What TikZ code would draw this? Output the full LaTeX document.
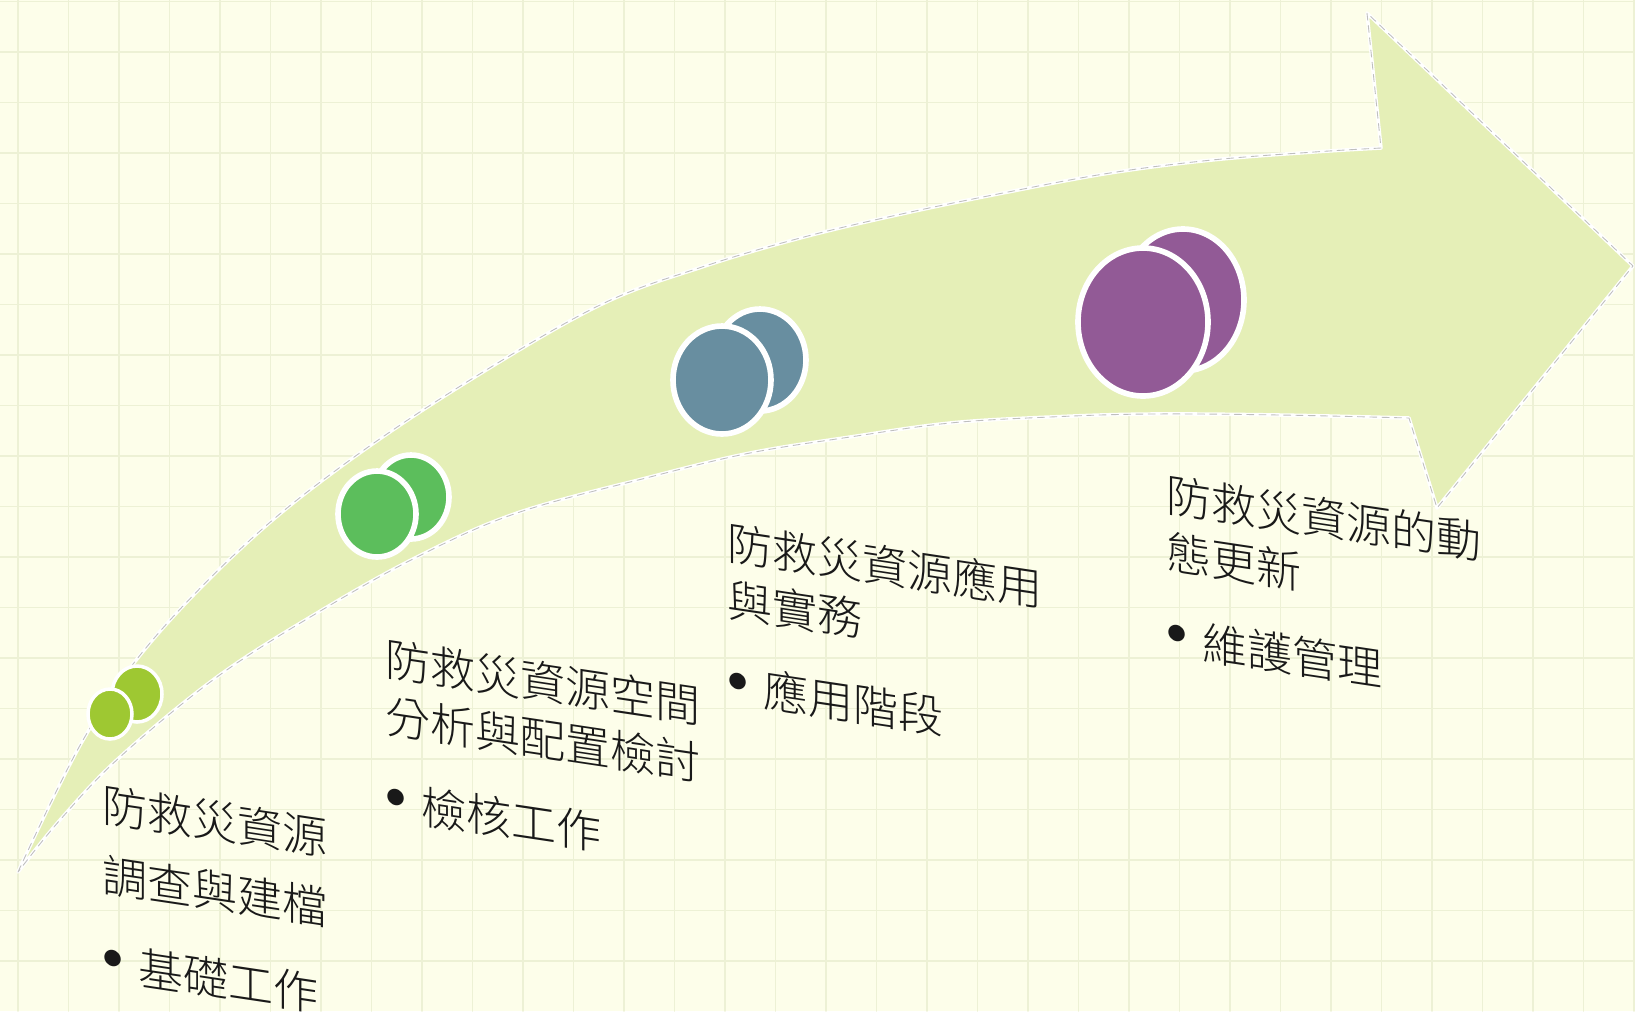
\documentclass[tikz,border=0pt]{standalone}
\usepackage{fontspec}
\newfontfamily\cjk{Noto Sans CJK TC}[UprightFont={* Light}]
\definecolor{paper}{RGB}{253,254,234}
\definecolor{gridc}{RGB}{237,241,213}
\definecolor{arrowc}{RGB}{229,239,183}
\definecolor{discA}{RGB}{158,200,50}
\definecolor{discB}{RGB}{92,190,92}
\definecolor{discC}{RGB}{104,142,160}
\definecolor{discD}{RGB}{146,90,150}
\definecolor{inkc}{RGB}{25,25,25}
\newcommand{\stageitem}[1]{\makebox[0.36cm][l]{\raisebox{0.25em}{$\bullet$}}#1}

\begin{document}
\begin{tikzpicture}[x=0.01cm, y=-0.01cm, line join=round, line cap=round,
    gridline/.style={draw=gridc, line width=0.5pt},
    arrowbody/.style={fill=arrowc, draw=white, line width=1pt, postaction={draw=black!25, dash pattern=on 2pt off 1.5pt, line width=0.25pt}},
    disc/.style={draw=white, line width=1.6pt},
    stage/.style={anchor=north west, inner sep=0pt, align=left, yslant=-0.15, text=inkc, font=\cjk\fontsize{12.8}{16.2}\selectfont}]
	\useasboundingbox (0,0) rectangle (1635,1011);
	\fill[paper] (0,0) rectangle (1635,1011);
	\foreach \i in {0,...,32} \draw[gridline] (18+50.5*\i,0) -- (18+50.5*\i,1011);
	\foreach \j in {0,...,19} \draw[gridline] (0,1.5+50.5*\j) -- (1635,1.5+50.5*\j);
	\coordinate (tail) at (18,872);
	\coordinate (notchU) at (1381,148);
	\coordinate (headT) at (1367,13);
	\coordinate (tip) at (1633,266);
	\coordinate (headB) at (1437,508);
	\coordinate (notchL) at (1409,418);
	\draw[arrowbody] (tail) -- plot[smooth, tension=0.6] coordinates {(18,872) (83,740) (150,643) (250,540) (350,460) (470,380) (600,305) (702,267) (804,237) (906,213) (1008,192) (1110,173) (1212,160) (1314,152) (1381,148)}
		-- (headT) -- (tip) -- (headB) -- (notchL)
		-- plot[smooth, tension=0.6] coordinates {(1409,418) (1280,415) (1150,414) (1050,417) (950,423) (850,437) (750,453) (650,477) (517,513) (417,557) (317,613) (217,677) (120,757) (60,820) (18,872)} -- cycle;
	\draw[disc, fill=discA, line width=1pt] (137,694) ellipse [x radius=25, y radius=28];
	\draw[disc, fill=discA, line width=1pt] (110,714) ellipse [x radius=22, y radius=25];
	\draw[disc, fill=discB] (411,497) ellipse [x radius=38, y radius=42];
	\draw[disc, fill=discB] (377,514) ellipse [x radius=39, y radius=43];
	\draw[disc, fill=discC] (760,360) ellipse [x radius=46, y radius=51];
	\draw[disc, fill=discC] (722,380) ellipse [x radius=49, y radius=54];
	\draw[disc, fill=discD] (1183,300) ellipse [x radius=61, y radius=71];
	\draw[disc, fill=discD] (1143,322) ellipse [x radius=65, y radius=74];
	\node[stage, font=\cjk\fontsize{12.8}{19.9}\selectfont] (survey) at (102,783) {防救災資源\\調查與建檔\\[4.9pt]\stageitem{基礎工作}};
	\node[stage] (review) at (385,637) {防救災資源空間\\分析與配置檢討\\[8pt]\stageitem{檢核工作}};
	\node[stage] (practice) at (727,520) {防救災資源應用\\與實務\\[8pt]\stageitem{應用階段}};
	\node[stage] (upkeep) at (1166,473) {防救災資源的動\\態更新\\[8pt]\stageitem{維護管理}};
\end{tikzpicture}
\end{document}
